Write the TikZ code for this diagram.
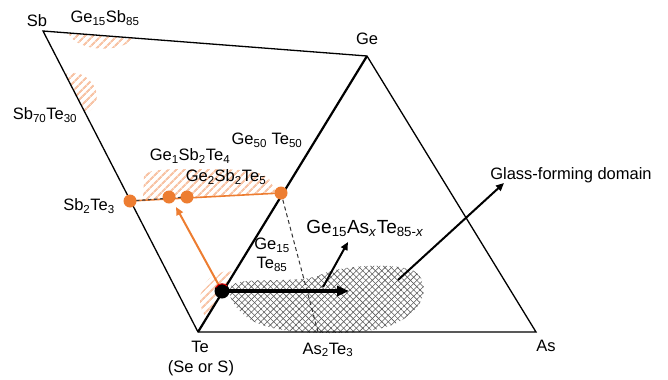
\documentclass[tikz,border=0pt]{standalone}
\usepackage{fontspec}
\setmainfont{Liberation Sans}
\usetikzlibrary{arrows.meta,patterns.meta}
\definecolor{org}{RGB}{237,125,49}
\definecolor{hatchc}{RGB}{248,196,166}
\definecolor{crossc}{RGB}{90,90,90}
\newcommand\sbs[1]{\textsubscript{#1}}
\begin{document}
\begin{tikzpicture}[x=1bp,y=1bp,
  lbl/.style={font=\fontsize{16.5bp}{19bp}\selectfont, inner sep=0pt},
  edge/.style={line width=1.3bp, black},
  orghatch/.style={pattern={Lines[angle=45,distance=6bp,line width=2.6bp]}, pattern color=hatchc},
  xa/.style={pattern={Lines[angle=45,distance=4.5bp,line width=0.6bp]}, pattern color=crossc},
  xb/.style={pattern={Lines[angle=-45,distance=4.5bp,line width=0.6bp]}, pattern color=crossc},
  odot/.style={circle, fill=org, inner sep=0pt, minimum size=13bp},
  bdot/.style={circle, fill=black, inner sep=0pt, minimum size=15bp},
  thinarrow/.style={line width=2bp, -{Triangle[length=8bp,width=7bp]}},
]
\useasboundingbox (0,-379) rectangle (668,0);
% vertices
\coordinate (Sb) at (43,-31);
\coordinate (Ge) at (367,-56);
\coordinate (Te) at (198,-332);
\coordinate (As) at (536,-332);
% orange hatched domains
\fill[orghatch] (68,-33) .. controls (78,-53) and (122,-53) .. (134,-38) -- cycle;
\fill[orghatch] (65,-74) .. controls (90,-66) and (110,-100) .. (86,-114) -- cycle;
\fill[orghatch] (143,-200) -- (144,-176) .. controls (146,-169) and (170,-169) .. (200,-169)
   .. controls (240,-169) and (262,-170) .. (270,-180) -- (276,-193) -- cycle;
\fill[orghatch] (235,-272) .. controls (206,-266) and (190,-300) .. (207,-318) -- cycle;
% glass-forming domain (cross-hatched)
\def\blob{(231,-286) .. controls (240,-276) and (290,-284) .. (318,-276)
   .. controls (335,-266) and (390,-262) .. (412,-270)
   .. controls (428,-278) and (428,-300) .. (410,-314)
   .. controls (395,-328) and (370,-333) .. (330,-333)
   .. controls (290,-333) and (262,-328) .. (248,-318)
   .. controls (234,-308) and (226,-294) .. (231,-286) -- cycle}
\fill[xa] \blob;
\fill[xb] \blob;
% triangle edges
\draw[edge] (Sb) -- (Ge) -- (As) -- (Te) -- cycle;
\draw[line width=2.2bp] (Te) -- (Ge);
% compositions
\coordinate (SbTe) at (130,-201);
\coordinate (G124) at (169,-197);
\coordinate (G225) at (187,-197);
\coordinate (GeTe) at (281,-193);
\coordinate (G15) at (222,-291);
\coordinate (AsTe) at (318,-332);
\draw[org, line width=1.6bp] (SbTe) -- (GeTe);
\draw[black!75, line width=1.2bp, dash pattern=on 3.5bp off 2.5bp] (SbTe) -- (G225);
\draw[black!80, line width=1bp, dash pattern=on 4bp off 3bp] (GeTe) -- (AsTe);
% arrows
\coordinate (oh) at (176,-207);
\draw[org, line width=2bp, -{Triangle[length=8bp,width=7bp]}] (G15) -- (oh);
\coordinate (bh) at (349,-291);
\draw[line width=3.2bp, -{Triangle[length=12bp,width=10bp]}] (G15) -- (bh);
\coordinate (t1) at (323,-287);
\coordinate (h1) at (348,-242);
\draw[thinarrow] (t1) -- (h1);
\coordinate (t2) at (398,-280);
\coordinate (h2) at (504,-183);
\draw[thinarrow] (t2) -- (h2);
% dots
\node[odot] (dSbTe) at (SbTe) {};
\node[odot] (d124) at (G124) {};
\node[odot] (d225) at (G225) {};
\node[odot] (dGeTe) at (GeTe) {};
\node[bdot] (d15) at (G15) {};
\draw[red, line width=0.9bp] ([shift={(150:7.2bp)}]G15) arc[start angle=150, end angle=45, radius=7.2bp];
% labels
\node[lbl] (lSb) at (37,-21) {Sb};
\node[lbl] (lGe15Sb85) at (105,-18) {Ge\sbs{15}Sb\sbs{85}};
\node[lbl] (lSb70) at (45,-115) {Sb\sbs{70}Te\sbs{30}};
\node[lbl] (lGe) at (367,-39) {Ge};
\node[lbl] (lSb2Te3) at (89,-206) {Sb\sbs{2}Te\sbs{3}};
\node[lbl] (lTe) at (200,-347) {Te};
\node[lbl] (lSeS) at (201,-368) {(Se or S)};
\node[lbl] (lAs2Te3) at (328,-350) {As\sbs{2}Te\sbs{3}};
\node[lbl] (lAs) at (546,-346) {As};
\node[lbl] (lGlass) at (571,-175) {Glass-forming domain};
\node[lbl, font=\fontsize{19bp}{22bp}\selectfont] (lGAT) at (365,-228) {Ge\sbs{15}As\sbs{\textit{x}}Te\sbs{85-\textit{x}}};
\node[lbl] (l124) at (190,-156) {Ge\sbs{1}Sb\sbs{2}Te\sbs{4}};
\node[lbl] (l225) at (226,-177) {Ge\sbs{2}Sb\sbs{2}Te\sbs{5}};
\node[lbl] (l5050) at (267,-140) {Ge\sbs{50} Te\sbs{50}};
\node[lbl, align=center] (l1585) at (272,-255) {Ge\sbs{15}\\Te\sbs{85}};
\end{tikzpicture}
\end{document}
